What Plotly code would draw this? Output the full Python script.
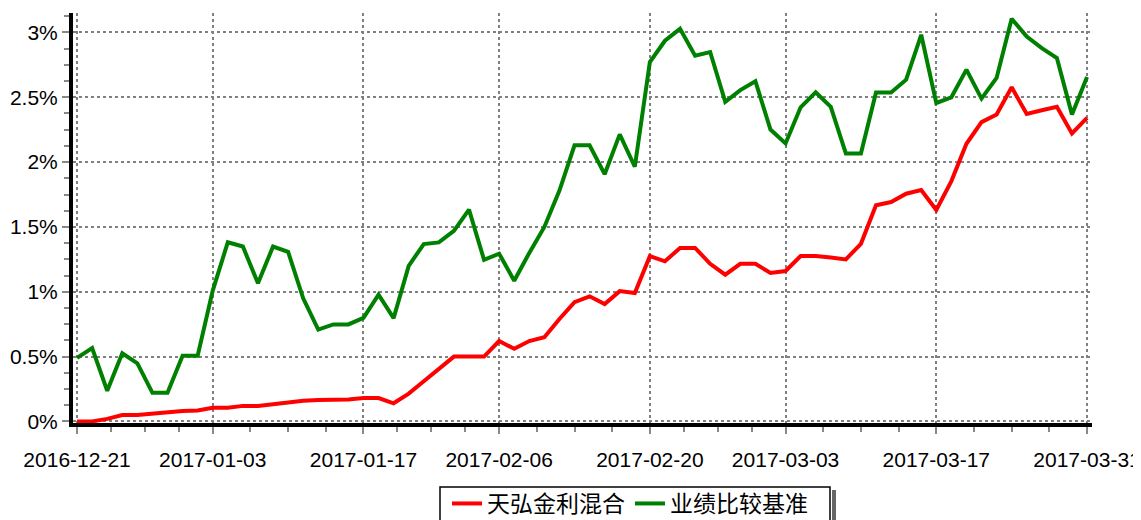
import plotly.graph_objects as go

dates = [
    "2016-12-21", "2016-12-22", "2016-12-23", "2016-12-26", "2016-12-27", "2016-12-28", "2016-12-29", "2016-12-30", "2016-12-31",
    "2017-01-03", "2017-01-04", "2017-01-05", "2017-01-06", "2017-01-09", "2017-01-10", "2017-01-11", "2017-01-12", "2017-01-13",
    "2017-01-16", "2017-01-17", "2017-01-18", "2017-01-19", "2017-01-20", "2017-01-23", "2017-01-24", "2017-01-25", "2017-01-26",
    "2017-02-03", "2017-02-06", "2017-02-07", "2017-02-08", "2017-02-09", "2017-02-10", "2017-02-13", "2017-02-14", "2017-02-15",
    "2017-02-16", "2017-02-17", "2017-02-20", "2017-02-21", "2017-02-22", "2017-02-23", "2017-02-24", "2017-02-27", "2017-02-28",
    "2017-03-01", "2017-03-02", "2017-03-03", "2017-03-06", "2017-03-07", "2017-03-08", "2017-03-09", "2017-03-10", "2017-03-13",
    "2017-03-14", "2017-03-15", "2017-03-16", "2017-03-17", "2017-03-20", "2017-03-21", "2017-03-22", "2017-03-23", "2017-03-24",
    "2017-03-27", "2017-03-28", "2017-03-29", "2017-03-30", "2017-03-31",
]

fund = [
    0.00, 0.00, 0.02, 0.05, 0.05, 0.06, 0.075, 0.08, 0.085,
    0.105, 0.105, 0.12, 0.12, 0.135, 0.15, 0.16, 0.165, 0.165,
    0.17, 0.18, 0.18, 0.14, 0.215, 0.31, 0.41, 0.50, 0.50,
    0.50, 0.62, 0.56, 0.62, 0.65, 0.79, 0.92, 0.965, 0.905,
    1.005, 0.99, 1.275, 1.235, 1.338, 1.338, 1.216, 1.132, 1.216,
    1.216, 1.145, 1.16, 1.275, 1.275, 1.265, 1.25, 1.37, 1.667,
    1.692, 1.756, 1.785, 1.631, 1.854, 2.141, 2.308, 2.367, 2.577,
    2.372, 2.40, 2.426, 2.221, 2.341,
]

benchmark = [
    0.49, 0.566, 0.237, 0.525, 0.448, 0.221, 0.221, 0.507, 0.507,
    1.009, 1.382, 1.349, 1.066, 1.349, 1.308, 0.95, 0.708, 0.748,
    0.748, 0.799, 0.978, 0.797, 1.20, 1.368, 1.381, 1.47, 1.634,
    1.246, 1.294, 1.085, 1.30, 1.50, 1.78, 2.13, 2.13, 1.907,
    2.214, 1.964, 2.772, 2.936, 3.028, 2.82, 2.849, 2.465, 2.555,
    2.624, 2.251, 2.144, 2.423, 2.538, 2.426, 2.067, 2.067, 2.536,
    2.536, 2.636, 2.982, 2.456, 2.50, 2.713, 2.49, 2.649, 3.105,
    2.969, 2.879, 2.803, 2.367, 2.656,
]

tick_dates = ["2016-12-21", "2017-01-03", "2017-01-17", "2017-02-06",
              "2017-02-20", "2017-03-03", "2017-03-17", "2017-03-31"]

series_names = ["天弘金利混合", "业绩比较基准"]
series_colors = ["#FF0000", "#008000"]

x = list(range(len(dates)))
tick_idx = [dates.index(d) for d in tick_dates]
minor_vals = []
for a, b in zip(tick_idx[:-1], tick_idx[1:]):
    for k in range(1, 4):
        minor_vals.append(a + (b - a) * k / 4)

fig = go.Figure()
for name, vals, col in zip(series_names, [fund, benchmark], series_colors):
    fig.add_trace(go.Scatter(
        x=x, y=vals, name=name, mode="lines",
        line=dict(color=col, width=4),
        customdata=dates,
        hovertemplate="%{customdata}: %{y:.2f}%<extra>" + name + "</extra>",
    ))

font_family = "Liberation Sans, Arial, sans-serif"

# The page body has an 8px margin; the figure is sized to fill the rest.
OFF = 8
W, H = 1141 - OFF, 520 - OFF
# plot area in page pixels: x 73..1092, y 13..423
L, R, T, B = 73 - OFF, 1141 - 1092, 13 - OFF, 520 - 423
pw, ph = W - L - R, H - T - B
def px(xp):  # page x pixel -> paper coordinate
    return (xp - OFF - L) / pw
def py(yp):  # page y pixel -> paper coordinate
    return (H - B - (yp - OFF)) / ph

fig.update_layout(
    width=W, height=H,
    margin=dict(l=L, r=R, t=T, b=B, autoexpand=False),
    paper_bgcolor="white", plot_bgcolor="white",
    font=dict(family=font_family, size=21, color="#000000"),
    showlegend=True,
    legend=dict(
        orientation="h", x=px(447), xanchor="left", y=py(482), yanchor="top",
        borderwidth=0, bgcolor="rgba(0,0,0,0)",
        font=dict(family="Noto Sans CJK SC, " + font_family, size=23, color="#000000"),
        itemwidth=30, tracegroupgap=0,
    ),
    xaxis=dict(
        range=[-0.27, 67.33], automargin=False,
        tickmode="array", tickvals=tick_idx, ticktext=tick_dates,
        showgrid=True, gridcolor="#808080", griddash="dot", gridwidth=1.5,
        showline=True, linecolor="#000000", linewidth=4,
        ticks="outside", ticklen=7, tickcolor="#888888", tickwidth=1.5,
        ticklabelstandoff=8,
        zeroline=False,
        minor=dict(tickmode="array", tickvals=minor_vals, ticks="outside",
                   ticklen=5, tickcolor="#888888", tickwidth=1.5, showgrid=False),
    ),
    yaxis=dict(
        range=[-0.012, 3.15], automargin=False,
        tickmode="linear", tick0=0, dtick=0.5, ticksuffix="%",
        showgrid=True, gridcolor="#808080", griddash="dot", gridwidth=1.5,
        showline=True, linecolor="#000000", linewidth=4,
        ticks="outside", ticklen=7, tickcolor="#888888", tickwidth=1.5,
        zeroline=False,
        minor=dict(tickmode="linear", tick0=0, dtick=0.125, ticks="outside",
                   ticklen=5, tickcolor="#888888", tickwidth=1.5, showgrid=False),
    ),
)

# legend frame and its shadow strip
fig.add_shape(type="rect", xref="paper", yref="paper",
              x0=px(832), x1=px(836), y0=py(530), y1=py(490),
              line=dict(width=0), fillcolor="#666666", layer="below")
fig.add_shape(type="rect", xref="paper", yref="paper",
              x0=px(440), x1=px(830), y0=py(530), y1=py(487),
              line=dict(width=1.5, color="#000000"), fillcolor="white", layer="below")

fig.write_html("out.html")
